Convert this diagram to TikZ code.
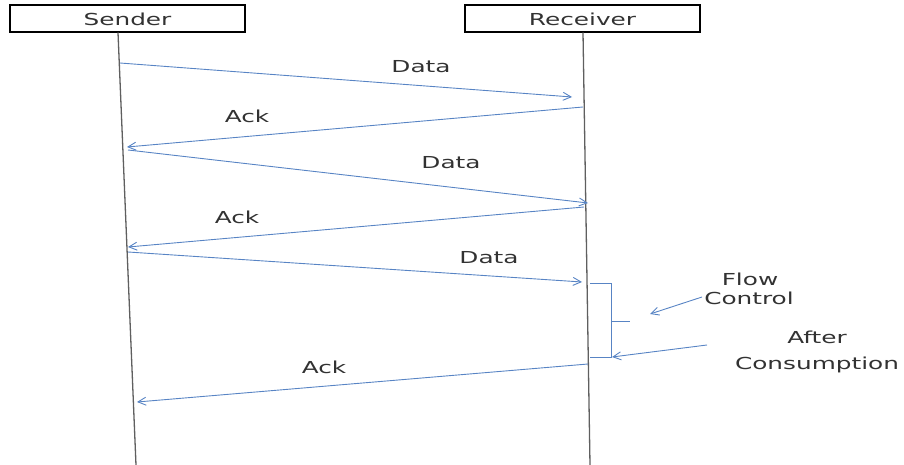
\documentclass[tikz,border=0pt]{standalone}
\usepackage{fontspec}
\setmainfont{DejaVu Sans}[FakeStretch=1.5]
\usetikzlibrary{arrows.meta}
\definecolor{msgblue}{RGB}{88,132,196}
\definecolor{lifegray}{RGB}{95,95,95}
\definecolor{txtgray}{RGB}{50,50,50}
\begin{document}
\begin{tikzpicture}[x=1pt,y=-1pt,
  msg/.style={draw=msgblue, line width=0.9pt, -{Straight Barb[length=8pt,width=8pt]}},
  lbl/.style={anchor=base, font=\fontsize{16.5}{19}\selectfont, text=txtgray, inner sep=0pt},
  actor/.style={draw=black, line width=2pt, minimum width=235pt, minimum height=27pt,
                inner sep=0pt, font=\fontsize{16.5}{19}\selectfont, text=txtgray},
  life/.style={draw=lifegray, line width=1.3pt},
  bracket/.style={draw=msgblue, line width=0.9pt}]
\useasboundingbox (0,0) rectangle (904,465);

% participants
\node[actor] (sender) at (127.5,19) {Sender};
\node[actor] (receiver) at (582.5,19) {Receiver};

% lifelines
\coordinate (sTop) at (118,32.5);
\coordinate (sBot) at (136,465);
\coordinate (rTop) at (583,32.5);
\coordinate (rBot) at (590,465);
\draw[life] (sTop) -- (sBot);
\draw[life] (rTop) -- (rBot);

% message end points
\coordinate (d1a) at (120,63);   \coordinate (d1b) at (572,97);
\coordinate (a1a) at (583,107);  \coordinate (a1b) at (127,147);
\coordinate (d2a) at (128,150);  \coordinate (d2b) at (588,203);
\coordinate (a2a) at (584,207);  \coordinate (a2b) at (128,247);
\coordinate (d3a) at (128,252);  \coordinate (d3b) at (582,282);
\coordinate (a3a) at (588,364);  \coordinate (a3b) at (137,402);

\draw[msg] (d1a) -- (d1b);
\draw[msg] (a1a) -- (a1b);
\draw[msg] (d2a) -- (d2b);
\draw[msg] (a2a) -- (a2b);
\draw[msg] (d3a) -- (d3b);
\draw[msg] (a3a) -- (a3b);

% message labels
\node[lbl] (ld1) at (421,73) {Data};
\node[lbl] (la1) at (247,123) {Ack};
\node[lbl] (ld2) at (451,168) {Data};
\node[lbl] (la2) at (237,223) {Ack};
\node[lbl] (ld3) at (489,263) {Data};
\node[lbl] (la3) at (324,373) {Ack};

% bracket on the receiver side
\coordinate (bTopL) at (590,283);
\coordinate (bTopR) at (611,283);
\coordinate (bBotR) at (611,357);
\coordinate (bBotL) at (590,357);
\coordinate (bMid) at (611,321);
\coordinate (bTip) at (630,321);
\draw[bracket] (bTopL) -- (bTopR) -- (bBotR) -- (bBotL);
\draw[bracket] (bMid) -- (bTip);

% annotations
\node[lbl] (flow) at (750,285) {Flow};
\node[lbl] (ctrl) at (749,304) {Control};
\node[lbl] (after) at (817,343) {After};
\node[lbl] (cons) at (817,369) {Consumption};

\coordinate (fcFrom) at (702,297);
\coordinate (fcTo) at (650,314);
\coordinate (acFrom) at (707,345);
\coordinate (acTo) at (612,357);
\draw[msg] (fcFrom) -- (fcTo);
\draw[msg] (acFrom) -- (acTo);
\end{tikzpicture}
\end{document}
